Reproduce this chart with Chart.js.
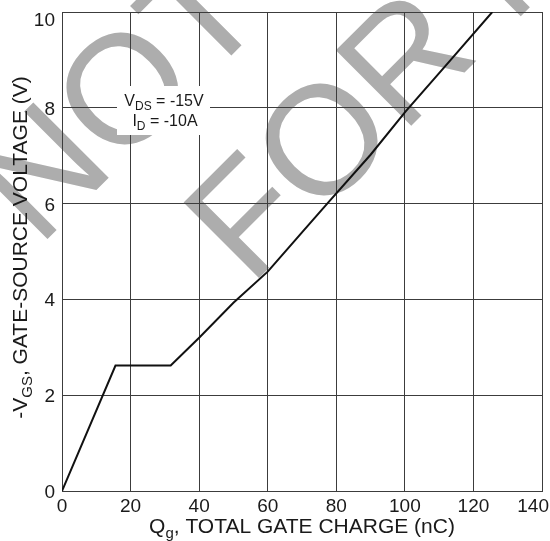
<!DOCTYPE html>
<html>
<head>
<meta charset="utf-8">
<script src="https://cdn.jsdelivr.net/npm/chart.js@4/dist/chart.umd.min.js"></script>
<style>
  html, body { margin: 0; padding: 0; background: #fff; }
  canvas { display: block; }
</style>
</head>
<body>
<canvas id="gateCharge" width="550" height="541"></canvas>
<script>
// gate charge curve
const qg  = [0, 15.6, 31.7, 40, 50, 60, 70, 78, 90, 100.3, 113, 125.5];
const vgs = [0, 2.62, 2.62, 3.2, 3.93, 4.58, 5.4, 6.05, 7.02, 7.93, 8.97, 10];

const xTicks = [0, 20, 40, 60, 80, 100, 120, 140];
const yTicks = [0, 2, 4, 6, 8, 10];

const xTitle = [{ t: 'Q' }, { t: 'g', sub: true }, { t: ', TOTAL GATE CHARGE (nC)' }];
const yTitle = [{ t: '-V' }, { t: 'GS', sub: true }, { t: ', GATE-SOURCE VOLTAGE (V)' }];
const noteLines = [
  [{ t: 'V' }, { t: 'DS', sub: true }, { t: ' = -15V' }],
  [{ t: 'I' }, { t: 'D', sub: true }, { t: ' = -10A' }],
];
const watermark = ['NOT', 'FOR NEW'];

const FONT = '"Liberation Sans", Arial, sans-serif';
const INK = '#1a1a1a';
const GRID = '#3c3c3c';

// text with subscripts
function richWidth(ctx, parts, size) {
  let w = 0;
  for (const p of parts) {
    ctx.font = (p.sub ? Math.round(size * 0.72) : size) + 'px ' + FONT;
    w += ctx.measureText(p.t).width;
  }
  return w;
}
function drawRich(ctx, parts, x, y, size, align) {
  const w = richWidth(ctx, parts, size);
  let cx = align === 'center' ? x - w / 2 : x;
  ctx.textAlign = 'left';
  ctx.textBaseline = 'alphabetic';
  for (const p of parts) {
    ctx.font = (p.sub ? Math.round(size * 0.72) : size) + 'px ' + FONT;
    ctx.fillText(p.t, cx, p.sub ? y + size * 0.25 : y);
    cx += ctx.measureText(p.t).width;
  }
}

const pagePlugin = {
  id: 'page',
  beforeDraw(chart) {
    const ctx = chart.ctx;
    ctx.save();
    ctx.fillStyle = '#fff';
    ctx.fillRect(0, 0, chart.width, chart.height);
    // grey diagonal watermark behind everything
    ctx.fillStyle = '#adadad';
    ctx.font = '155px ' + FONT;
    ctx.textAlign = 'left';
    ctx.textBaseline = 'alphabetic';
    ctx.translate(250, 287);
    ctx.rotate(-Math.PI / 4);
    ctx.fillText(watermark[0], -122, -177);
    ctx.fillText(watermark[1], 0, 0);
    ctx.restore();
  },
  afterDraw(chart) {
    const ctx = chart.ctx;
    const xs = chart.scales.x, ys = chart.scales.y;
    const area = chart.chartArea;
    ctx.save();
    ctx.fillStyle = INK;

    // tick labels
    ctx.font = '19px ' + FONT;
    ctx.textBaseline = 'alphabetic';
    ctx.textAlign = 'left';
    for (const v of xTicks) {
      const s = String(v);
      const w = ctx.measureText(s).width;
      let left = xs.getPixelForValue(v) - w / 2;
      left = Math.min(Math.max(left, 0), chart.width - w - 1);
      ctx.fillText(s, left, area.bottom + 21);
    }
    ctx.textAlign = 'right';
    for (const v of yTicks) {
      let base = ys.getPixelForValue(v) + 7;
      base = Math.max(base, area.top + 14);
      ctx.fillText(String(v), area.left - 7, base);
    }

    // axis titles
    drawRich(ctx, xTitle, (area.left + area.right) / 2, 533, 21, 'center');
    ctx.save();
    ctx.translate(27, 247.5);
    ctx.rotate(-Math.PI / 2);
    drawRich(ctx, yTitle, 0, 0, 21, 'center');
    ctx.restore();

    // test condition box
    ctx.fillStyle = '#fff';
    ctx.fillRect(117, 86, 93, 49);
    ctx.fillStyle = INK;
    drawRich(ctx, noteLines[0], 164, 106, 16, 'center');
    drawRich(ctx, noteLines[1], 165, 126, 16, 'center');
    ctx.restore();
  }
};

const ctx = document.getElementById('gateCharge').getContext('2d');
new Chart(ctx, {
  type: 'line',
  data: {
    datasets: [{
      data: qg.map((q, i) => ({ x: q, y: vgs[i] })),
      borderColor: '#111',
      borderWidth: 2,
      pointRadius: 0,
      tension: 0,
      fill: false,
    }],
  },
  options: {
    responsive: false,
    animation: false,
    devicePixelRatio: 1,
    layout: { padding: { top: 12, right: 8, left: 0, bottom: 0 } },
    plugins: { legend: { display: false }, tooltip: { enabled: false } },
    scales: {
      x: {
        type: 'linear',
        min: 0,
        max: 140,
        ticks: { stepSize: 20, display: false },
        grid: { color: GRID, lineWidth: 1, drawTicks: false },
        border: { color: GRID },
        afterFit(scale) { scale.height = 50; },
      },
      y: {
        min: 0,
        max: 10,
        ticks: { stepSize: 2, display: false },
        grid: { color: GRID, lineWidth: 1, drawTicks: false },
        border: { color: GRID },
        afterFit(scale) { scale.width = 62; },
      },
    },
  },
  plugins: [pagePlugin],
});
</script>
</body>
</html>
